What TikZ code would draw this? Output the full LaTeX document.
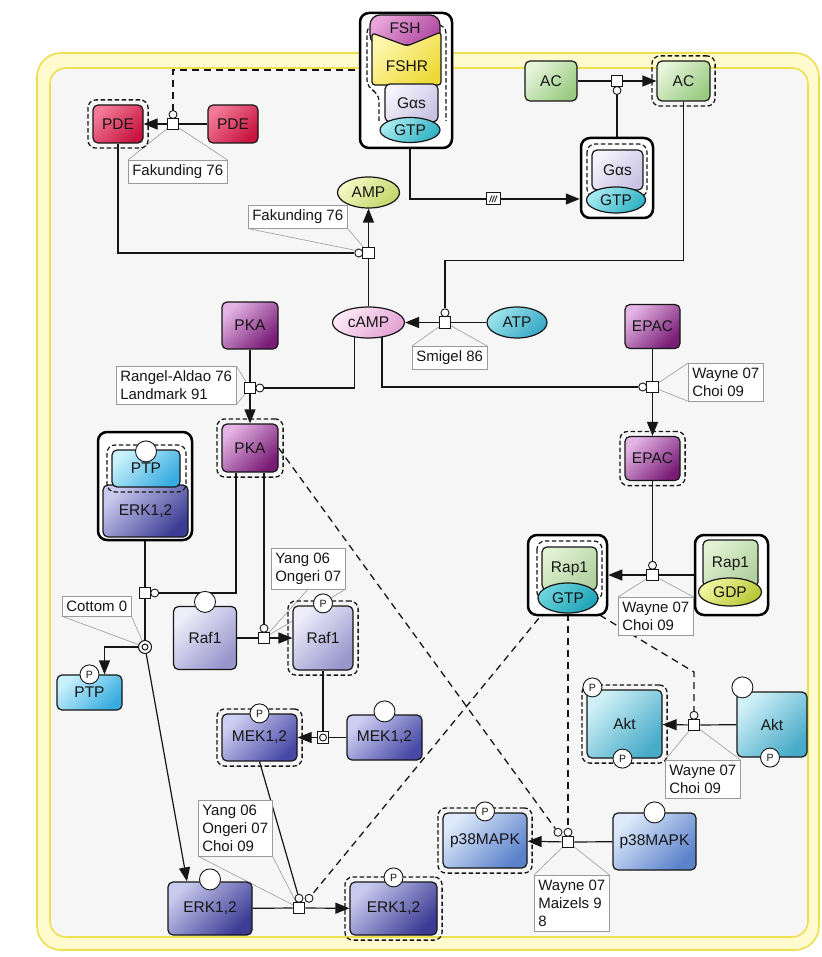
\documentclass[tikz,border=0pt]{standalone}
\usepackage{fontspec}
\setmainfont{Liberation Sans}
\usetikzlibrary{arrows.meta,shapes.geometric,fit}

\pgfdeclarelayer{back}
\pgfdeclarelayer{wires}
\pgfsetlayers{back,wires,main}

\definecolor{ink}{HTML}{161616}
\definecolor{notegray}{HTML}{9A9A9A}
\definecolor{bandfill}{HTML}{FFFBCF}
\definecolor{bandline}{HTML}{EEDF4E}
\definecolor{cellfill}{HTML}{F6F6F6}
\definecolor{pdeL}{HTML}{F27A96}
\definecolor{pdeD}{HTML}{C8143F}
\definecolor{fshL}{HTML}{E8A4DA}
\definecolor{fshD}{HTML}{B04AA0}
\definecolor{fshrL}{HTML}{FFF7AE}
\definecolor{fshrD}{HTML}{EDDA38}
\definecolor{gasL}{HTML}{F5F3FC}
\definecolor{gasD}{HTML}{C9C3E3}
\definecolor{gtpL}{HTML}{A8EBF1}
\definecolor{gtpD}{HTML}{30B1C3}
\definecolor{gtqL}{HTML}{6ED4DF}
\definecolor{gtqD}{HTML}{1EA3B6}
\definecolor{ampL}{HTML}{F3F9C4}
\definecolor{ampD}{HTML}{C4D66A}
\definecolor{campL}{HTML}{FDE9F7}
\definecolor{campD}{HTML}{E4A2D4}
\definecolor{atpL}{HTML}{9CE3EB}
\definecolor{atpD}{HTML}{38A9C4}
\definecolor{pkaL}{HTML}{E4B4E4}
\definecolor{pkaD}{HTML}{781C76}
\definecolor{acL}{HTML}{E6F4DA}
\definecolor{acD}{HTML}{9ACB82}
\definecolor{ptpL}{HTML}{C8F1FC}
\definecolor{ptpD}{HTML}{38ACE0}
\definecolor{erkL}{HTML}{C8CAEE}
\definecolor{erkD}{HTML}{3C3C94}
\definecolor{rafL}{HTML}{EEEEFB}
\definecolor{rafD}{HTML}{9896CB}
\definecolor{mekL}{HTML}{CDCFF2}
\definecolor{mekD}{HTML}{4849A6}
\definecolor{rapL}{HTML}{E1F1D3}
\definecolor{rapD}{HTML}{B2D19F}
\definecolor{gdpL}{HTML}{F0F59E}
\definecolor{gdpD}{HTML}{B6C736}
\definecolor{aktL}{HTML}{D0F0F7}
\definecolor{aktD}{HTML}{48ABC8}
\definecolor{pmkL}{HTML}{DEEAFB}
\definecolor{pmkD}{HTML}{5B82CB}

\newcommand{\sbgnnode}{\fontsize{15.5}{18}\selectfont}
\newcommand{\sbgnnote}{\fontsize{15}{18}\selectfont}
\newcommand{\sbgnsv}{\fontsize{10.5}{11}\selectfont}

\begin{document}
\begin{tikzpicture}[x=1pt,y=-1pt,
  every node/.style={text=ink},
  shadeg/.style 2 args={top color=#1, bottom color=#2, shading angle=45},
  sz/.style 2 args={minimum width=#1pt, minimum height=#2pt},
  epn/.style={rectangle, draw=ink, line width=1.2pt, rounded corners=5pt, inner sep=0pt, font=\sbgnnode},
  oval/.style={ellipse, draw=ink, line width=1.2pt, inner sep=0pt, font=\sbgnnode},
  cplx/.style={rectangle, draw=black, line width=2.5pt, fill=white, rounded corners=9pt, inner sep=0pt},
  actv/.style={rectangle, draw=ink, line width=1.3pt, dash pattern=on 4.5pt off 2.5pt, rounded corners=8pt, inner sep=4.5pt},
  innerdash/.style={draw=ink, line width=1.2pt, dash pattern=on 4.5pt off 2.5pt, rounded corners=8pt},
  sv/.style={circle, draw=ink, fill=white, line width=0.9pt, minimum size=19pt, inner sep=0pt, font=\sbgnsv},
  svempty/.style={circle, draw=ink, fill=white, line width=0.9pt, minimum size=21pt, inner sep=0pt},
  proc/.style={rectangle, draw=ink, fill=white, line width=1.1pt, minimum size=11.5pt, inner sep=0pt},
  modc/.style={circle, draw=ink, fill=white, line width=0.9pt, minimum size=8pt, inner sep=0pt},
  note/.style={rectangle, draw=notegray, fill=white, line width=0.6pt, align=left, font=\sbgnnote, inner xsep=4pt, inner ysep=4.5pt, anchor=north west},
  callout/.style={draw=notegray, line width=0.6pt},
  wire/.style={draw=ink, line width=1.2pt},
  arr/.style={wire, -{Triangle[length=14pt,width=11pt]}},
  dwire/.style={draw=ink, line width=1.3pt, dash pattern=on 7pt off 5pt},
]

% compartment with its membrane band
\begin{pgfonlayer}{back}
  \fill[white] (0,0) rectangle (821,957);
  \draw[draw=bandline, fill=bandfill, line width=1.6pt, rounded corners=24pt] (37,53) rectangle (819,950);
  \draw[draw=bandline, fill=cellfill, line width=1.6pt, rounded corners=16pt] (50,68) rectangle (808,937);
\end{pgfonlayer}
\useasboundingbox (0,0) rectangle (821,957);

% ---------- FSH : FSHR : Galpha-s : GTP receptor complex ----------
\node[cplx, sz={92}{135}] (fshcx) at (406,80.5) {};
\draw[innerdash] (379,121) -- (379,93) -- (367,88) -- (367,25) -- (446,25) -- (446,121);
\node[epn, sz={70}{30}, rounded corners=10pt, shadeg={fshL}{fshD}] (fsh) at (405,30) {\raisebox{4pt}{FSH}};
\path[draw=ink, line width=1.2pt, top color=fshrL, bottom color=fshrD, shading angle=45, rounded corners=3pt]
  (372,33) -- (407,46) -- (441,32) -- (441,85) -- (372,85) -- cycle;
\node[font=\sbgnnode] (fshr) at (407,66) {FSHR};
\node[epn, sz={53}{38}, shadeg={gasL}{gasD}] (gas1) at (411.5,103) {\raisebox{-3pt}{Gαs}};
\node[oval, sz={60}{25}, shadeg={gtpL}{gtpD}] (gtp1) at (410,130) {GTP};
\coordinate (fshrL) at (367,70);

% ---------- Galpha-s : GTP complex ----------
\node[cplx, sz={72}{80}] (gacx) at (617,178) {};
\draw[innerdash] (587,144) rectangle (647,197);
\node[epn, sz={51}{40}, shadeg={gasL}{gasD}] (gas2) at (617.5,170) {\raisebox{-1pt}{Gαs}};
\node[oval, sz={59}{26}, shadeg={gtpL}{gtpD}] (gtp2) at (616,200) {GTP};
\node[rectangle, draw=ink, fill=white, line width=1pt, minimum width=14pt, minimum height=12pt, inner sep=0pt,
      font=\fontsize{9}{9}\selectfont\bfseries\itshape] (gate) at (493,199) {///};

% ---------- adenylate cyclase ----------
\node[epn, sz={52}{40}, shadeg={acL}{acD}] (ac1) at (551,81) {AC};
\node[epn, sz={53}{40}, shadeg={acL}{acD}] (ac2) at (683.5,81) {AC};
\node[actv, fit=(ac2)] (ac2a) {};
\node[proc] (pAC) at (617,81) {};
\node[modc] (mAC) at (617,90.5) {};

% ---------- phosphodiesterase ----------
\node[epn, sz={50}{38}, shadeg={pdeL}{pdeD}] (pde1) at (118,124) {PDE};
\node[actv, fit=(pde1)] (pde1a) {};
\node[epn, sz={50}{38}, shadeg={pdeL}{pdeD}] (pde2) at (233,124) {PDE};
\node[proc] (pPDE) at (173,124) {};
\node[modc] (mPDE) at (173,114.5) {};
\node[note] (nPDE) at (128,160) {Fakunding 76};

% ---------- nucleotides ----------
\node[oval, sz={62}{31}, shadeg={ampL}{ampD}] (amp) at (368.5,192.5) {AMP};
\node[oval, sz={72}{31}, shadeg={campL}{campD}] (camp) at (368.5,322.5) {cAMP};
\node[oval, sz={60}{31}, shadeg={atpL}{atpD}] (atp) at (517,322.5) {ATP};
\node[proc] (pAMP) at (368.5,253) {};
\node[modc] (mAMP) at (358.8,253) {};
\node[note] (nAMP) at (248,205) {Fakunding 76};
\node[proc] (pSm) at (445,322.5) {};
\node[modc] (mSm) at (445,312.8) {};
\node[note] (nSm) at (412,346) {Smigel 86};

% ---------- PKA ----------
\node[epn, sz={56}{47}, shadeg={pkaL}{pkaD}] (pka1) at (250,325.5) {PKA};
\node[proc] (pPKA) at (250,388) {};
\node[modc] (mPKA) at (259.8,388) {};
\node[epn, sz={56}{48}, shadeg={pkaL}{pkaD}] (pka2) at (250,448) {PKA};
\node[actv, fit=(pka2)] (pka2a) {};
\node[note] (nPKA) at (116,366) {Rangel-Aldao 76\\Landmark 91};

% ---------- EPAC ----------
\node[epn, sz={55}{44}, shadeg={pkaL}{pkaD}] (epac1) at (652.5,326.5) {EPAC};
\node[proc] (pEP) at (652.5,387) {};
\node[modc] (mEP) at (642.7,387) {};
\node[epn, sz={55}{44}, shadeg={pkaL}{pkaD}] (epac2) at (652.5,458.5) {EPAC};
\node[actv, fit=(epac2)] (epac2a) {};
\node[note] (nEP) at (688,363) {Wayne 07\\Choi 09};

% ---------- Rap1 ----------
\node[cplx, sz={79}{80}] (rapcx1) at (567.5,575) {};
\draw[innerdash] (537,541) rectangle (602,600);
\node[epn, sz={55}{43}, shadeg={rapL}{rapD}] (rap1a) at (569.5,568.5) {\raisebox{-3pt}{Rap1}};
\node[oval, sz={60}{30}, shadeg={gtqL}{gtqD}] (gtp3) at (568,598) {GTP};
\node[cplx, sz={73}{80}] (rapcx2) at (731.5,575) {};
\node[epn, sz={55}{47}, shadeg={rapL}{rapD}] (rap1b) at (730.5,563.5) {\raisebox{2pt}{Rap1}};
\node[oval, sz={63}{28}, shadeg={gdpL}{gdpD}] (gdp) at (730,592) {GDP};
\node[proc] (pRap) at (652.5,575) {};
\node[modc] (mRap) at (652.5,565.3) {};
\node[note] (nRap) at (618,597) {Wayne 07\\Choi 09};

% ---------- ERK1,2 : PTP complex ----------
\node[cplx, sz={94}{108}] (erkcx) at (145,486) {};
\node[epn, sz={85}{52}, shadeg={erkL}{erkD}] (erk0) at (145.5,511) {\raisebox{-2pt}{ERK1,2}};
\draw[innerdash] (107,445) rectangle (186,492);
\node[epn, sz={68}{37}, shadeg={ptpL}{ptpD}] (ptp1) at (146,468.5) {\raisebox{-2pt}{PTP}};
\node[svempty] (ptp1s) at ([yshift=-2pt]ptp1.north) {};
\node[proc] (pPTP) at (145,593) {};
\node[modc] (mPTP) at (154.7,593) {};
\node[circle, draw=ink, fill=white, line width=1pt, minimum size=13pt, inner sep=0pt] (dPTP) at (145,647) {};
\node[circle, draw=ink, line width=1pt, minimum size=6pt, inner sep=0pt] (dPTPi) at (dPTP) {};
\node[note] (nCot) at (62,596) {Cottom 0};
\node[epn, sz={65}{35}, shadeg={ptpL}{ptpD}] (ptp2) at (89.5,692.5) {\raisebox{-2pt}{PTP}};
\node[sv] (ptp2s) at (ptp2.north) {P};

% ---------- Raf1 ----------
\node[epn, sz={63}{63}, shadeg={rafL}{rafD}] (raf1a) at (205,638) {Raf1};
\node[svempty] (raf1as) at ([yshift=4pt]raf1a.north) {};
\node[epn, sz={60}{64}, shadeg={rafL}{rafD}] (raf1p) at (323,638) {Raf1};
\node[actv, fit=(raf1p)] (raf1pa) {};
\node[sv] (raf1ps) at ([yshift=2pt]raf1p.north) {P};
\node[proc] (pRaf) at (264,638) {};
\node[modc] (mRaf) at (264,628.3) {};
\node[note] (nRaf) at (271,548) {Yang 06\\Ongeri 07};

% ---------- MEK1,2 ----------
\node[epn, sz={75}{47}, shadeg={mekL}{mekD}] (mek2) at (259.5,737.5) {MEK1,2};
\node[actv, fit=(mek2)] (mek2a) {};
\node[sv] (mek2s) at (mek2.north) {P};
\node[epn, sz={75}{45}, shadeg={mekL}{mekD}] (mek1) at (384.5,737.5) {MEK1,2};
\node[svempty] (mek1s) at ([yshift=3pt]mek1.north) {};
\node[proc] (pMEK) at (323,737.5) {};
\node[circle, draw=ink, line width=0.9pt, minimum size=7pt, inner sep=0pt] (mMEK) at (pMEK) {};

% ---------- ERK1,2 ----------
\node[epn, sz={84}{53}, shadeg={erkL}{erkD}] (erk1) at (210,908.5) {ERK1,2};
\node[svempty] (erk1s) at ([yshift=2pt]erk1.north) {};
\node[epn, sz={87}{53}, shadeg={erkL}{erkD}] (erk2) at (393.5,908.5) {ERK1,2};
\node[actv, fit=(erk2)] (erk2a) {};
\node[sv] (erk2s) at ([yshift=4pt]erk2.north) {P};
\node[proc] (pERK) at (299,908) {};
\node[modc] (mERKa) at (299,898.3) {};
\node[modc] (mERKb) at (309,898.3) {};
\node[note] (nERK) at (198,800) {Yang 06\\Ongeri 07\\Choi 09};

% ---------- Akt ----------
\node[epn, sz={75}{68}, shadeg={aktL}{aktD}] (akt2) at (624.5,724) {Akt};
\node[actv, fit=(akt2)] (akt2a) {};
\node[sv] (akt2s1) at ([xshift=6pt,yshift=2pt]akt2.north west) {P};
\node[sv] (akt2s2) at ([xshift=-2pt]akt2.south) {P};
\node[epn, sz={70}{65}, shadeg={aktL}{aktD}] (akt1) at (772,724.5) {Akt};
\node[svempty] (akt1s1) at ([xshift=6pt,yshift=4pt]akt1.north west) {};
\node[sv] (akt1s2) at ([xshift=-2pt]akt1.south) {P};
\node[proc] (pAkt) at (694,725) {};
\node[modc] (mAkt) at (694,715.3) {};
\node[note] (nAkt) at (665,760) {Wayne 07\\Choi 09};

% ---------- p38MAPK ----------
\node[epn, sz={84}{55}, shadeg={pmkL}{pmkD}] (p38b) at (485,840.5) {p38MAPK};
\node[actv, fit=(p38b)] (p38ba) {};
\node[sv] (p38bs) at ([yshift=1pt]p38b.north) {P};
\node[epn, sz={83}{57}, shadeg={pmkL}{pmkD}] (p38a) at (654.5,841.5) {p38MAPK};
\node[svempty] (p38as) at (p38a.north) {};
\node[proc] (p38p) at (568,842) {};
\node[modc] (m38a) at (558,832.3) {};
\node[modc] (m38b) at (568,832.3) {};
\node[note] (n38) at (534,875) {Wayne 07\\Maizels 9\\8};

% ---------- connectors ----------
\begin{pgfonlayer}{wires}
  % annotation callouts
  \draw[callout] (nPDE.north west) -- (pPDE.center) -- (nPDE.north east);
  \draw[callout] (nAMP.south west) -- (pAMP.center) -- (nAMP.south east);
  \draw[callout] (nSm.north west) -- (pSm.center) -- (nSm.north east);
  \draw[callout] (nPKA.north east) -- (pPKA.center) -- (nPKA.south east);
  \draw[callout] (nEP.north west) -- (pEP.center) -- (nEP.south west);
  \draw[callout] (nRaf.north east) -- (pRaf.center) -- (nRaf.south east);
  \draw[callout] (nCot.south west) -- (dPTP.center) -- (nCot.south east);
  \draw[callout] (nRap.north west) -- (pRap.center) -- (nRap.north east);
  \draw[callout] (nAkt.north west) -- (pAkt.center) -- (nAkt.north east);
  \draw[callout] (nERK.south west) -- (pERK.center) -- (nERK.south east);
  \draw[callout] (n38.north west) -- (p38p.center) -- (n38.north east);

  % receptor signalling
  \draw[dwire] (fshrL) -| (mPDE);
  \draw[arr] (gtp1.south) |- ([yshift=-21pt]gacx.west);
  \draw[wire] (gacx) -- (mAC);
  \draw[wire] (ac1) -- (pAC);
  \draw[arr] (pAC) -- (ac2);

  % PDE activation and cAMP turnover
  \draw[wire] (pde2) -- (pPDE);
  \draw[arr] (pPDE) -- (pde1);
  \draw[wire] (pde1.south) |- (mAMP);
  \draw[wire] (camp) -- (pAMP);
  \draw[arr] (pAMP) -- (amp);
  \draw[wire] (atp) -- (pSm);
  \draw[arr] (pSm) -- (camp);
  \draw[wire] (ac2.south) -- ++(0,159) -| (mSm);

  % PKA and EPAC activation
  \draw[wire] (pka1) -- (pPKA);
  \draw[arr] (pPKA) -- (pka2);
  \draw[wire] ([xshift=-14pt]camp.center) |- (mPKA);
  \draw[wire] ([xshift=13.5pt]camp.center) |- (mEP);
  \draw[wire] (epac1) -- (pEP);
  \draw[arr] (pEP) -- (epac2);

  % Rap1 exchange
  \draw[wire] (epac2) -- (mRap);
  \draw[wire] (rapcx2) -- (pRap);
  \draw[arr] (pRap) -- (rapcx1);

  % PTP release
  \draw[wire] (erkcx) -- (pPTP);
  \draw[wire] ([xshift=-14pt]pka2.south) |- (mPTP);
  \draw[wire] (pPTP) -- (dPTP);
  \draw[arr] (dPTP) -| ([xshift=15pt]ptp2.north);
  \draw[arr] (dPTP) -- ([xshift=-23pt]erk1.north);

  % Raf1 / MEK1,2 / ERK1,2 cascade
  \draw[wire] ([xshift=14pt]pka2.south) -- (mRaf);
  \draw[wire] (raf1a) -- (pRaf);
  \draw[arr] (pRaf) -- (raf1p);
  \draw[wire] (raf1p) -- (pMEK);
  \draw[wire] (mek1) -- (pMEK);
  \draw[arr] (pMEK) -- (mek2);
  \draw[wire] (mek2.south) -- (mERKa);
  \draw[wire] (erk1) -- (pERK);
  \draw[arr] (pERK) -- (erk2);

  % Akt and p38MAPK
  \draw[wire] (akt1) -- (pAkt);
  \draw[arr] (pAkt) -- (akt2);
  \draw[wire] (p38a) -- (p38p);
  \draw[arr] (p38p) -- (p38b);

  % stimulations by Rap1:GTP and PKA
  \draw[dwire] (gtp3.south west) -- (mERKb);
  \draw[dwire] (gtp3.south) -- (m38b);
  \draw[dwire] (gtp3.south east) -- (mAkt |- 0,672) -- (mAkt);
  \draw[dwire] (pka2.east) -- (m38a);
\end{pgfonlayer}

\end{tikzpicture}
\end{document}
